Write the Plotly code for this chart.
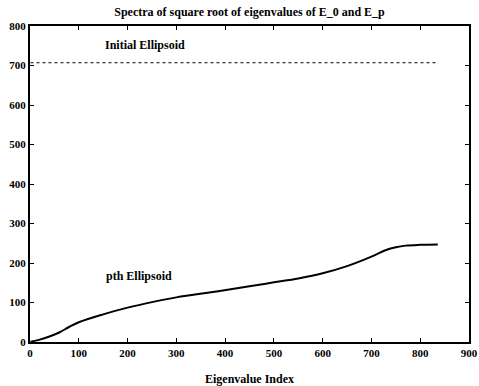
import numpy as np
import plotly.graph_objects as go

n_eig = 836
initial_value = 707.0
pth_index = [1, 20, 40, 60, 80, 100, 150, 200, 250, 300, 389, 450, 500, 550, 600, 650, 700, 730, 750, 770, 800, 836]
pth_value = [1, 6, 14, 24, 38, 50, 70, 87, 101, 113, 129, 141, 151, 161, 174, 192, 216, 233, 240, 244, 246, 247]
x_ticks = [0, 100, 200, 300, 400, 500, 600, 700, 800, 900]
y_ticks = [0, 100, 200, 300, 400, 500, 600, 700, 800]

font_fam = "Liberation Serif"

fig = go.Figure()
fig.add_trace(go.Scatter(x=[1, n_eig], y=[initial_value, initial_value], mode="lines",
                         line=dict(color="black", width=1, dash="dot"), showlegend=False))
fig.add_trace(go.Scatter(x=pth_index, y=pth_value, mode="lines", line_shape="spline",
                         line=dict(color="black", width=2), showlegend=False))

fig.add_annotation(x=150, y=752, text="<b>Initial Ellipsoid</b>", showarrow=False,
                   xanchor="left", font=dict(family=font_fam, size=12, color="black"))
fig.add_annotation(x=152, y=167, text="<b>pth Ellipsoid</b>", showarrow=False,
                   xanchor="left", font=dict(family=font_fam, size=12, color="black"))

axis_common = dict(showgrid=False, zeroline=False, showline=True, linecolor="black", linewidth=2,
                   mirror="ticks", ticks="inside", ticklen=4, tickcolor="black", automargin=False,
                   tickfont=dict(family=font_fam, size=11, color="black"))
fig.update_xaxes(range=[0, 900], tickvals=x_ticks, ticktext=[f"<b>{v}</b>" for v in x_ticks],
                 title=dict(text="<b>Eigenvalue Index</b>", font=dict(family=font_fam, size=12, color="black"),
                            standoff=22), **axis_common)
fig.update_yaxes(range=[0, 800], tickvals=y_ticks, ticktext=[f"<b>{v}</b>" for v in y_ticks],
                 ticklabelstandoff=0, **axis_common)

fig.update_layout(
    width=479, height=386,
    margin=dict(l=30, r=10, t=26, b=44),
    paper_bgcolor="white", plot_bgcolor="white",
    hovermode=False,
    title=dict(text="<b>Spectra of square root of eigenvalues of E_0 and E_p</b>",
               x=(30 + 469) / 2 / 479, xanchor="center", y=1 - 12 / 386, yanchor="middle",
               font=dict(family=font_fam, size=12, color="black")),
)
fig.write_html("out.html", config={"displayModeBar": False},
               post_script="document.body.style.margin='0';")
